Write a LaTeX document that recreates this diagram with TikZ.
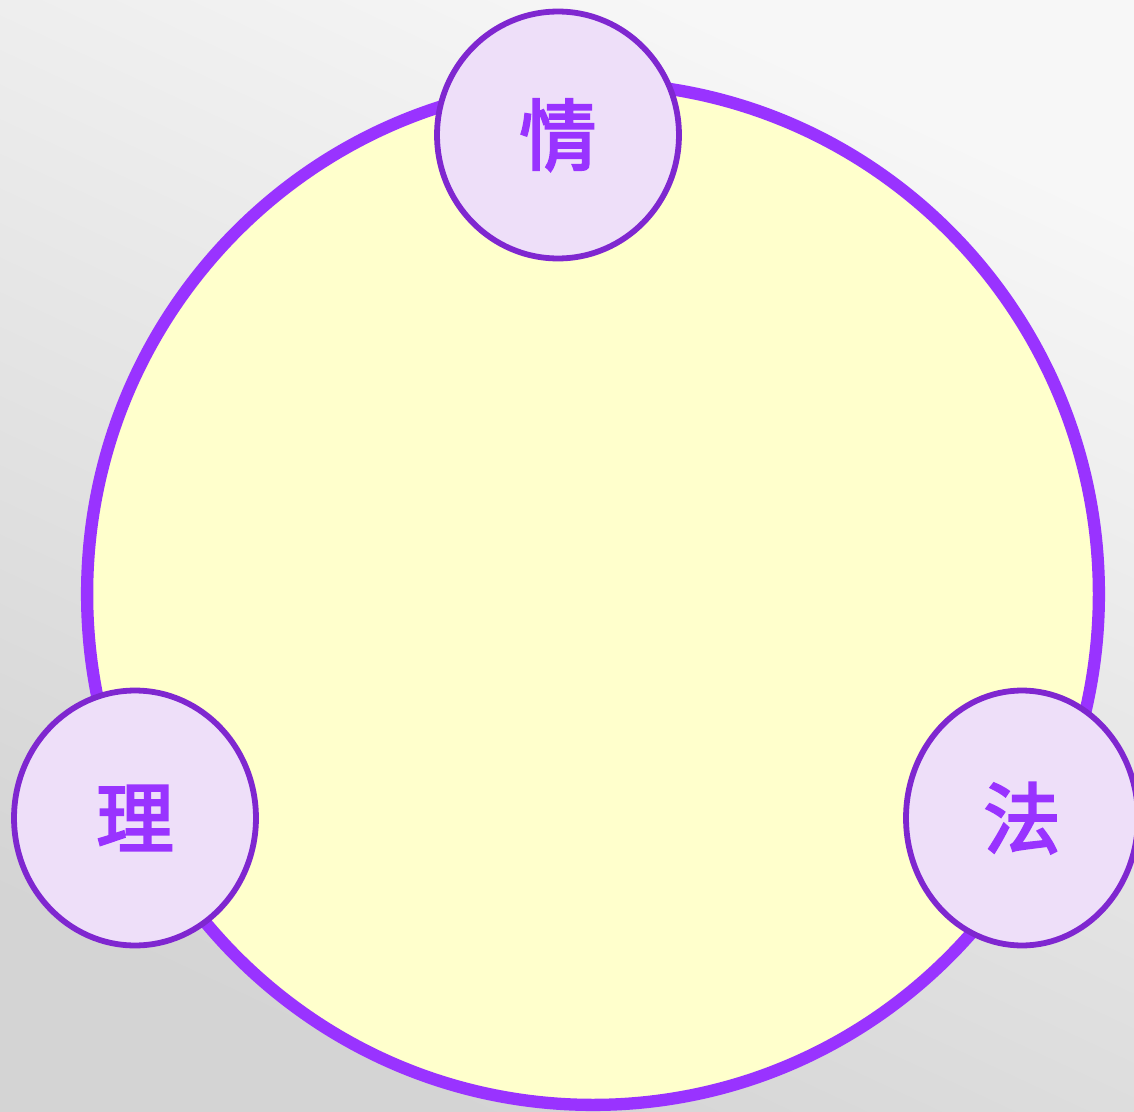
\documentclass[tikz,border=0pt]{standalone}
\usepackage{fontspec}
\newfontfamily\cjk[BoldFont={Noto Sans CJK TC}, BoldFeatures={FakeBold=3}]{Noto Sans CJK TC}
\usetikzlibrary{shapes.geometric}
\usetikzlibrary{positioning}

\definecolor{ringpurple}{HTML}{9933FF}
\definecolor{bubbleline}{HTML}{7F27D0}
\definecolor{bubblefill}{HTML}{EEDFF9}
\definecolor{paleyellow}{HTML}{FFFFCC}

\begin{document}
\begin{tikzpicture}
    [x=0.02cm,y=-0.02cm,
bigring/.style={ellipse, draw=ringpurple, fill=paleyellow, line width=7pt, minimum width=20.24cm, minimum height=20.44cm},
bubble/.style={ellipse, draw=bubbleline, fill=bubblefill, line width=3.3pt, inner sep=0pt, text=ringpurple, font=\cjk\bfseries\fontsize{44}{48}\selectfont}
]

% background
\useasboundingbox (0,0) rectangle (1134,1112);
\shade[top color=white!97!black, bottom color=white!83!black, shading angle=-25] (0,0) rectangle (1134,1112);

\node[bigring](ring) at (593,594){};

\node[bubble, minimum width=4.84cm, minimum height=4.94cm](qing) at (558,135){情};
\node[bubble, minimum width=4.84cm, minimum height=5.1cm](li) at (135,818){理};
\node[bubble, minimum width=4.64cm, minimum height=5.1cm](fa) at (1022,818){法};

\end{tikzpicture}
\end{document}
